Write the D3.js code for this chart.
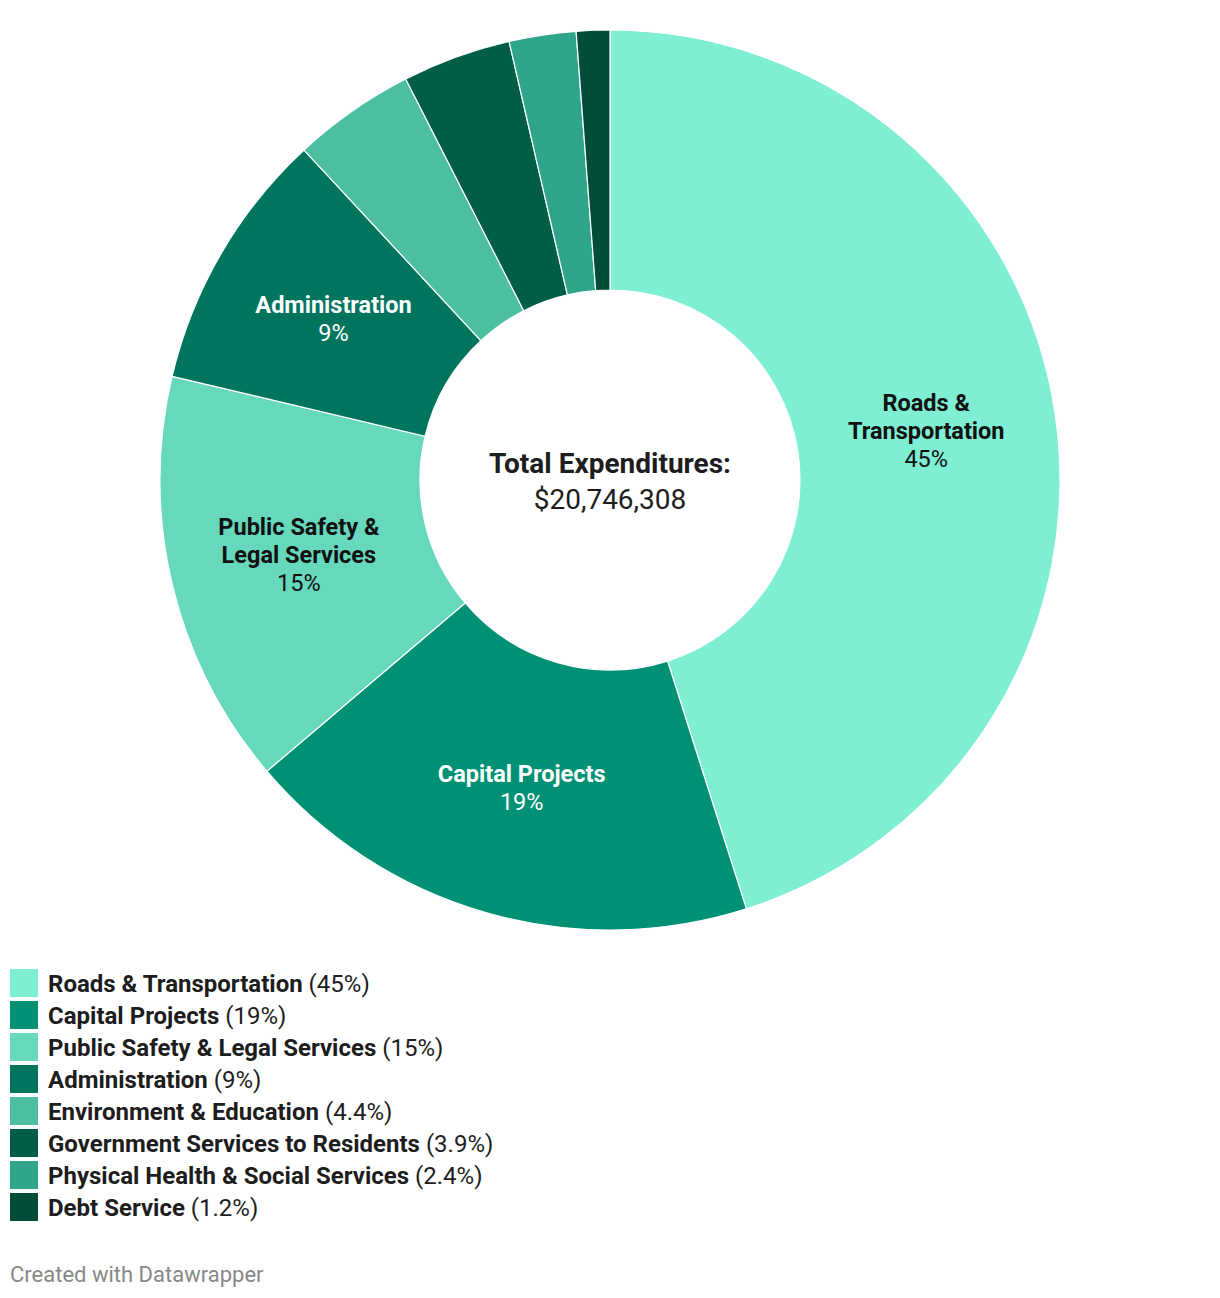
<!DOCTYPE html>
<html><head><meta charset="utf-8">
<script src="https://cdn.jsdelivr.net/npm/d3@7"></script>
<style>body{margin:0;background:#fff;font-family:Roboto,"Noto Sans",sans-serif;}</style>
</head><body>
<svg id="c" width="1220" height="1298"></svg>
<script>
const categories = ["Roads & Transportation","Capital Projects","Public Safety & Legal Services","Administration","Environment & Education","Government Services to Residents","Physical Health & Social Services","Debt Service"];
const values = [45.1,18.7,14.9,9.4,4.4,3.9,2.4,1.2];
const valueLabels = ["45%","19%","15%","9%","4.4%","3.9%","2.4%","1.2%"];
const colors = ["#7eefd2","#009175","#66d8bb","#00755e","#4bbfa0","#005e48","#2fa68b","#004d3a"];
const sliceLabelLines = [["Roads &","Transportation"],["Capital Projects"],["Public Safety &","Legal Services"],["Administration"],null,null,null,null];
const sliceLabelColors = ["#111","#fff","#111","#fff"];
const totalTitle = "Total Expenditures:";
const totalValue = "$20,746,308";

const svg = d3.select("#c");
const cx = 610, cy = 480, R = 450, r0 = 190;
const data = categories.map((c,i)=>({c, v:values[i], i}));
const pie = d3.pie().value(d=>d.v).sort(null);
const arc = d3.arc().innerRadius(r0).outerRadius(R);
const g = svg.append("g").attr("transform",`translate(${cx},${cy})`);
const arcs = pie(data);
g.selectAll("path").data(arcs).join("path")
  .attr("d",arc).attr("fill",d=>colors[d.data.i])
  .attr("stroke","#fff").attr("stroke-width",1.2);

const lab = g.selectAll("g.lab").data(arcs.filter(d=>sliceLabelLines[d.data.i])).join("g")
  .attr("transform",d=>`translate(${arc.centroid(d)})`);
lab.each(function(d){
  const lines = sliceLabelLines[d.data.i];
  const n = lines.length + 1;
  const col = sliceLabelColors[d.data.i];
  const t = d3.select(this).append("text").attr("text-anchor","middle")
    .attr("font-size",23.5).attr("fill",col);
  lines.forEach((l,k)=>{
    t.append("tspan").attr("x",0).attr("y",(k-(n-1)/2)*28+8).attr("font-weight",700).text(l);
  });
  t.append("tspan").attr("x",0).attr("y",(n-1-(n-1)/2)*28+8).text(valueLabels[d.data.i]);
});

g.append("text").attr("text-anchor","middle").attr("y",-7).attr("font-size",28)
  .attr("font-weight",700).attr("fill","#1d1d1d").text(totalTitle);
g.append("text").attr("text-anchor","middle").attr("y",29).attr("font-size",28)
  .attr("fill","#1d1d1d").text(totalValue);

const leg = svg.append("g").attr("transform","translate(10,969)");
const rows = leg.selectAll("g").data(data).join("g").attr("transform",(d,i)=>`translate(0,${i*32})`);
rows.append("rect").attr("width",28).attr("height",28).attr("fill",d=>colors[d.i]);
const lt = rows.append("text").attr("x",38).attr("y",22.5).attr("font-size",24).attr("fill","#1d1d1d");
lt.append("tspan").attr("font-weight",700).text(d=>d.c);
lt.append("tspan").text(d=>" ("+valueLabels[d.i]+")");

svg.append("text").attr("x",10).attr("y",1282).attr("font-size",22).attr("fill","#888").text("Created with Datawrapper");
</script>
</body></html>
